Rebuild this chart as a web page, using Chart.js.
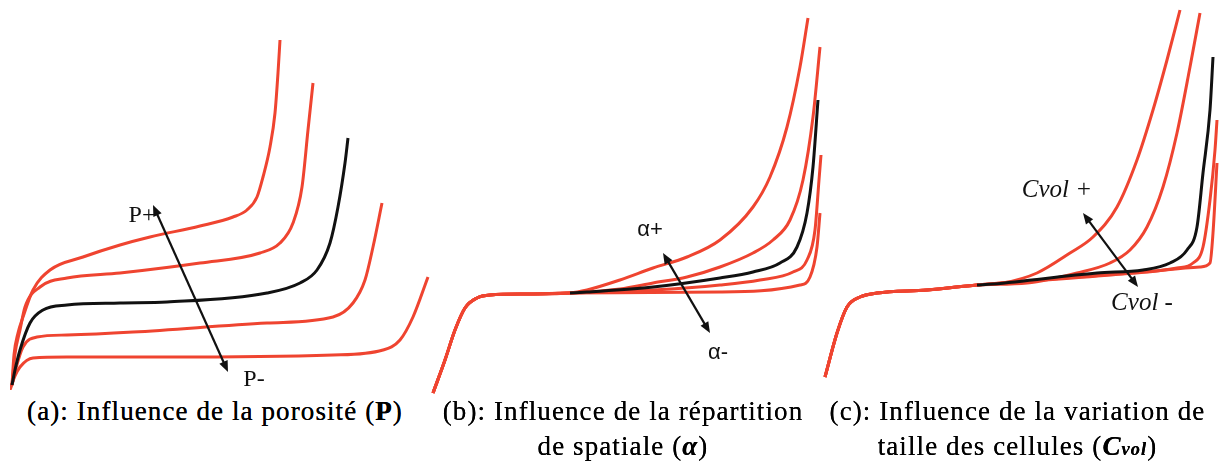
<!DOCTYPE html>
<html>
<head>
<meta charset="utf-8">
<script src="https://cdn.jsdelivr.net/npm/chart.js@4.4.1/dist/chart.umd.min.js"></script>
<style>
  html, body { margin:0; padding:0; background:#fff; width:1220px; height:471px; overflow:hidden; }
  canvas { position:absolute; }
  .cap { position:absolute; text-align:center; font-family:"Liberation Serif","Times New Roman",serif; font-size:27px; letter-spacing:1.1px; line-height:35px; color:#000; white-space:nowrap; text-shadow:0 0 0.4px #000; }
</style>
</head>
<body>
<canvas id="ca" width="440" height="390" style="left:10px;top:0px;"></canvas>
<canvas id="cb" width="400" height="400" style="left:430px;top:0px;"></canvas>
<canvas id="cc" width="400" height="400" style="left:820px;top:0px;"></canvas>
<div class="cap" style="left:0px;top:394px;width:430px;">(a): Influence de la porosité (<b>P</b>)</div>
<div class="cap" style="left:428px;top:394px;width:390px;">(b): Influence de la répartition<br>de spatiale (<b><i>α</i></b>)</div>
<div class="cap" style="left:820px;top:394px;width:395px;">(c): Influence de la variation de<br>taille des cellules (<i><b>C<span style="font-size:68%">vol</span></b></i>)</div>
<script>
// ---------- Panel (a): porosity P (strain x, stress y, arbitrary units)
const aP1 = [[0.5,1.25],[1,8.75],[2,14.25],[3.25,18.25],[5.75,25],[10,30],[18.25,33.25],[27.5,36.25],[35,38.25],[47.5,41],[55.75,43.25],[59.25,45],[61.75,48.25],[63.25,53.25],[65,60.75],[66.25,69.25],[67,79.25],[67.5,87.5]];
const aP2 = [[0.5,1.25],[1.25,9],[2.5,15],[3.75,20.75],[7.5,25.75],[14.25,28],[27.5,29.25],[47.5,31.75],[62.5,34.25],[67.5,36.75],[70.75,41.75],[73,50.75],[74.5,65],[75.75,76.75]];
const aRef = [[0.5,1.25],[1.25,5],[2.5,10],[5,16.75],[8.25,20],[14.25,21.25],[27.5,21.75],[39.25,22],[64.25,24.25],[72.5,26.75],[76.75,30],[80,36.75],[82,45.75],[83.75,56.75],[84.5,63]];
const aP4 = [[0.5,1.25],[1.5,5.5],[3.25,10.75],[6.75,13.25],[14.25,13.75],[30.75,14.5],[64.25,16.75],[80.75,18.25],[85.75,21.75],[88.75,27.5],[90.75,35.75],[93,46.75]];
const aP5 = [[0,0],[1.25,3.5],[2.5,5.75],[5.75,8],[14.25,8.25],[39.25,8.25],[80.75,8.75],[93.25,10],[97.5,12.5],[100.75,18.25],[104.5,28.25]];
const aArrow = [[35.75,46.25],[54.5,4.5]];
const aLabels = ["P+","P-"];
const aLabelPos = [[33,43.5],[61,2.5]];

// ---------- Panel (b): spatial distribution alpha
const bBase = [[0.75,1.75],[3.75,10],[6.25,17.5],[8.75,23],[11.75,25.5],[15,26.25],[25,26.5],[35,26.75]];
const bA1 = [[39.25,27.5],[47.5,30],[55.75,33],[64.25,35.75],[72.5,40],[80.75,48.25],[85,55.75],[89.25,68.25],[92.5,83.25],[94.5,95.5]];
const bA2 = [[47.5,27.75],[55.75,29.25],[64.25,30.75],[72.5,33.25],[80.75,36.75],[85.75,40],[90,45],[93.25,55],[95.75,70.75],[97.5,88.25]];
const bRef = [[35,26.75],[39.25,27],[55.75,28.25],[72.5,30.5],[80.75,32],[87.5,34.25],[91.75,38.25],[94.25,46.75],[95.75,58.25],[97,75]];
const bA4 = [[55.75,27.5],[72.5,28.75],[82.5,30],[90.75,32],[94.25,35],[96.25,42.5],[97.25,55],[97.75,61.25]];
const bA5 = [[72.5,27],[92.5,28.75],[95,30.75],[96.75,38.25],[97.5,46.75]];
const bArrow = [[58.25,36.75],[70,16.75]];
const bLabels = ["α+","α-"];
const bLabelPos = [[55,42.5],[72,11.75]];

// ---------- Panel (c): cell size variation Cvol
const cBase = [[1.25,5.75],[4.25,16.75],[6.75,23.25],[10,25.75],[14.25,26.75],[26.75,27.5],[39.25,28.75]];
const cC1 = [[45.75,29.25],[54.25,31.75],[62.5,36.75],[68.25,40.75],[74.25,48.25],[79.25,60],[83.25,72.5],[86.75,85],[90,97.5]];
const cC2 = [[51.75,29.25],[64.25,31.75],[72.5,34.25],[77.5,37.5],[81.75,43.25],[85.75,53.25],[89.25,66.75],[92.5,83.25],[95,96.75]];
const cRef = [[39.25,28.75],[43.25,29],[69.25,31.75],[80.75,32.5],[87.5,34.25],[91.75,37.5],[94.25,43.25],[95.75,56.75],[97.5,72.5],[98.25,85.75]];
const cC4 = [[72.5,31.25],[89.25,33],[93.25,34.25],[95.75,38.25],[97.5,50],[98.75,62.5],[99.25,70]];
const cC5 = [[80.75,32],[95,33.25],[97.5,34.25],[98.25,41.75],[99.25,59.25]];
const cArrow = [[65.75,46.75],[79.5,28.25]];
const cLabels = ["Cvol +","Cvol -"];
const cLabelPos = [[59.25,52.5],[80.5,24.25]];

const RED = '#ef4430';
const BLACK = '#111111';

function pts(arr){ return arr.map(p => ({x:p[0], y:p[1]})); }
function ds(arr, color, order){
  return { data: pts(arr), borderColor: color, borderWidth: 3, pointRadius: 0,
           cubicInterpolationMode: 'monotone', fill: false, clip: false, order: order };
}

const arrowPlugin = {
  id: 'arrows',
  afterDatasetsDraw(chart, args, opts) {
    const ctx = chart.ctx, xs = chart.scales.x, ys = chart.scales.y;
    const p0 = [xs.getPixelForValue(opts.arrow[0][0]), ys.getPixelForValue(opts.arrow[0][1])];
    const p1 = [xs.getPixelForValue(opts.arrow[1][0]), ys.getPixelForValue(opts.arrow[1][1])];
    ctx.save();
    ctx.strokeStyle = BLACK; ctx.fillStyle = BLACK; ctx.lineWidth = 2.2;
    const ang = Math.atan2(p1[1]-p0[1], p1[0]-p0[0]);
    const L = 11, W = 4.5;
    ctx.beginPath();
    ctx.moveTo(p0[0] + Math.cos(ang)*6, p0[1] + Math.sin(ang)*6);
    ctx.lineTo(p1[0] - Math.cos(ang)*6, p1[1] - Math.sin(ang)*6);
    ctx.stroke();
    function head(tip, a){
      ctx.beginPath();
      ctx.moveTo(tip[0], tip[1]);
      ctx.lineTo(tip[0] - Math.cos(a)*L - Math.sin(a)*W, tip[1] - Math.sin(a)*L + Math.cos(a)*W);
      ctx.lineTo(tip[0] - Math.cos(a)*L + Math.sin(a)*W, tip[1] - Math.sin(a)*L - Math.cos(a)*W);
      ctx.closePath(); ctx.fill();
    }
    head(p1, ang); head(p0, ang + Math.PI);
    ctx.font = opts.font; ctx.textAlign = 'center'; ctx.textBaseline = 'middle';
    ctx.fillStyle = BLACK;
    opts.labels.forEach((t, i) => {
      const lx = xs.getPixelForValue(opts.labelPos[i][0]), ly = ys.getPixelForValue(opts.labelPos[i][1]);
      ctx.fillText(t, lx, ly);
    });
    ctx.restore();
  }
};

function makeChart(id, datasets, xmax, ymax, arrow, labels, labelPos, font){
  new Chart(document.getElementById(id), {
    type: 'line',
    data: { datasets },
    options: {
      responsive: false, animation: false, devicePixelRatio: 1,
      layout: { padding: 0 },
      scales: {
        x: { type: 'linear', min: 0, max: xmax, display: false },
        y: { type: 'linear', min: 0, max: ymax, display: false }
      },
      plugins: { legend: { display: false }, tooltip: { enabled: false },
                 arrows: { arrow, labels, labelPos, font } }
    },
    plugins: [arrowPlugin]
  });
}

makeChart('ca', [ds(aRef, BLACK, 0), ds(aP1, RED, 1), ds(aP2, RED, 1), ds(aP4, RED, 1), ds(aP5, RED, 1)],
  110, 97.5, aArrow, aLabels, aLabelPos, '24px "Liberation Serif", serif');
makeChart('cb', [ds(bRef, BLACK, 0), ds(bBase.concat(bA1), RED, 1), ds(bBase.concat(bA2), RED, 1), ds(bBase.concat(bA4), RED, 1), ds(bBase.concat(bA5), RED, 1)],
  100, 100, bArrow, bLabels, bLabelPos, '22px "Liberation Sans", sans-serif');
makeChart('cc', [ds(cRef, BLACK, 0), ds(cBase.concat(cC1), RED, 1), ds(cBase.concat(cC2), RED, 1), ds(cBase.concat(cC4), RED, 1), ds(cBase.concat(cC5), RED, 1)],
  100, 100, cArrow, cLabels, cLabelPos, 'italic 25px "Liberation Serif", serif');
</script>
</body>
</html>
